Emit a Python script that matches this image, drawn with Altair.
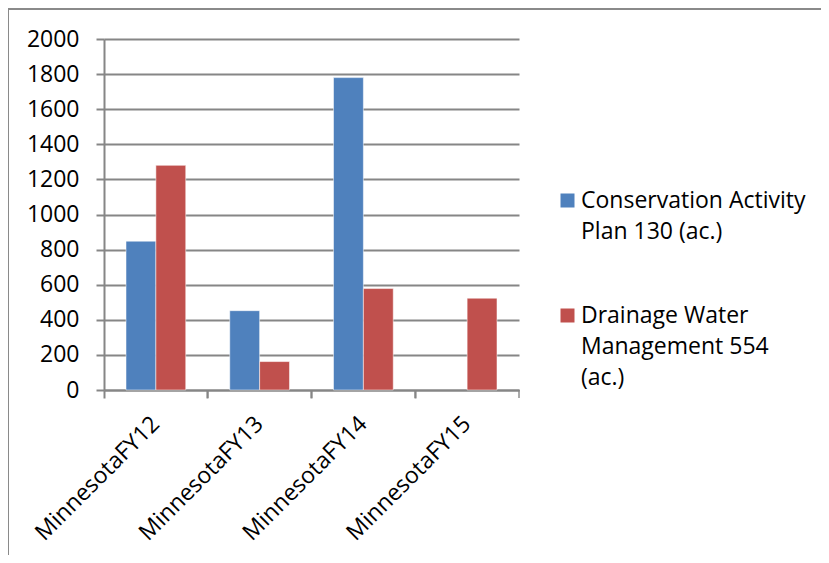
import altair as alt
import pandas as pd

categories = ["MinnesotaFY12", "MinnesotaFY13", "MinnesotaFY14", "MinnesotaFY15"]
series_names = ["Conservation Activity Plan 130 (ac.)", "Drainage Water Management 554 (ac.)"]
conservation = [848, 452, 1780, None]
drainage = [1280, 162, 578, 523]
y_ticks = [0, 200, 400, 600, 800, 1000, 1200, 1400, 1600, 1800, 2000]
colors = ["#4F81BD", "#C0504D"]
FONT = "Open Sans"
FS = 23

rows = []
for c, a, b in zip(categories, conservation, drainage):
    rows.append({"cat": c, "series": series_names[0], "value": a})
    rows.append({"cat": c, "series": series_names[1], "value": b})
df = pd.DataFrame(rows)
cat_df = pd.DataFrame({"cat": categories})

W, H = 415, 351

x_axis = alt.Axis(
    title=None,
    bandPosition=0,
    labelAngle=-45,
    labelAlign="right",
    labelBaseline="middle",
    labelOffset=0,
    labelFontSize=FS,
    labelFont=FONT,
    labelColor="#000000",
    labelPadding=22,
    tickSize=8,
    tickColor="#868686",
    tickWidth=2,
    domainColor="#868686",
    domainWidth=2,
    grid=False,
)
x_scale = alt.Scale(paddingInner=0, paddingOuter=0)

y_axis = alt.Axis(
    title=None,
    values=y_ticks,
    format="d",
    labelOverlap=False,
    labelFlush=False,
    labelFontSize=FS,
    labelFont=FONT,
    labelColor="#000000",
    labelPadding=17,
    tickSize=8,
    tickColor="#868686",
    tickWidth=2,
    domainColor="#868686",
    domainWidth=2,
    grid=True,
    gridColor="#868686",
    gridWidth=2,
)
y_scale = alt.Scale(domain=[0, 2000], nice=False)

bars = alt.Chart(df).mark_bar(strokeWidth=1, strokeOpacity=0.5, stroke="white").encode(
    x=alt.X("cat:N", sort=categories, scale=x_scale, axis=x_axis),
    xOffset=alt.XOffset("series:N", sort=series_names,
                        scale=alt.Scale(paddingInner=0, paddingOuter=0.737)),
    y=alt.Y("value:Q", scale=y_scale, axis=y_axis),
    color=alt.Color(
        "series:N",
        sort=series_names,
        scale=alt.Scale(domain=series_names, range=colors),
        legend=alt.Legend(
            title=None,
            orient="none",
            legendX=452,
            legendY=150,
            symbolType="square",
            symbolSize=196,
            symbolStrokeWidth=0,
            labelFontSize=FS,
            labelFont=FONT,
            labelColor="#000000",
            labelLimit=400,
            labelOffset=2,
            rowPadding=60,
            labelExpr="datum.label == 'Conservation Activity Plan 130 (ac.)' ? ['Conservation Activity', 'Plan 130 (ac.)'] : ['Drainage Water', 'Management 554', '(ac.)']",
        ),
    ),
)

end_ticks = alt.Chart(cat_df).mark_tick(
    orient="vertical", size=8, thickness=2, color="#868686", yOffset=4
).encode(
    x=alt.X("cat:N", sort=categories, bandPosition=1, scale=x_scale, axis=x_axis),
    y=alt.Y(datum=0, scale=y_scale, axis=y_axis),
)

frame = alt.Chart(alt.Data(values=[{}])).mark_rect(
    fill=None, stroke="#8a8a8a", strokeWidth=2
).encode(
    x=alt.value(-96), y=alt.value(-30), x2=alt.value(900), y2=alt.value(700)
)

chart = alt.layer(frame, bars, end_ticks).properties(
    width=W,
    height=H,
    autosize=alt.AutoSizeParams(type="none"),
    padding={"left": 96, "top": 31, "right": 302, "bottom": 165},
).configure(
    style={"guide-label": {"lineHeight": 31}}
).configure_view(stroke=None)

chart.save("out.html", embed_options={"renderer": "svg", "actions": False})
